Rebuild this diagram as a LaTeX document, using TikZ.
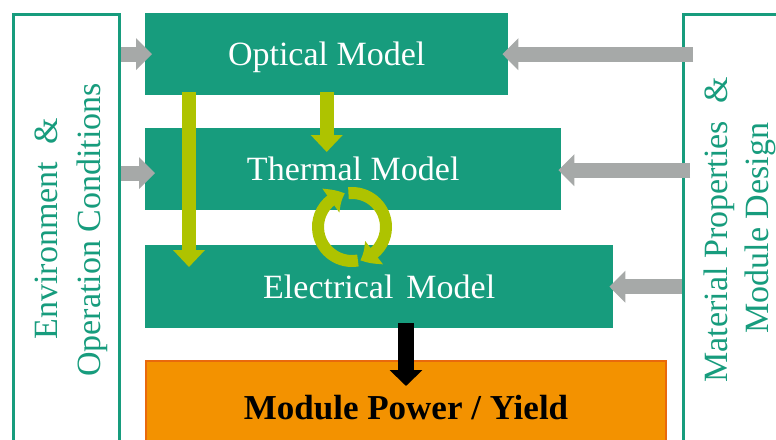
\documentclass[tikz,border=0pt]{standalone}
\usepackage{fontspec}
\setmainfont{Liberation Serif}
\usetikzlibrary{arrows.meta,bending,calc}
\definecolor{teal1}{HTML}{179C7D}
\definecolor{lime1}{HTML}{AEC300}
\definecolor{gray1}{HTML}{A6A9A8}
\definecolor{orange1}{HTML}{F39200}
\definecolor{orange2}{HTML}{E9690C}
\begin{document}
\begin{tikzpicture}[x=1pt,y=1pt,yscale=-1,
  model/.style={fill=teal1, text=white, font=\fontsize{34}{41}\selectfont,
    text height=23pt, text depth=0pt, inner sep=0pt, anchor=north west},
  side/.style={draw=teal1, line width=2.5pt, fill=white, anchor=north west, inner sep=0pt},
  sidetext/.style={text=teal1, font=\fontsize{34}{41}\selectfont, rotate=90,
    anchor=base, inner sep=0pt},
  grayarrow/.style={draw=gray1, line width=15pt, -{Triangle[width=31pt,length=16pt]}},
  limearrow/.style={draw=lime1, line width=14pt, -{Triangle[width=31pt,length=17pt]}},
  cyclearc/.style={draw=lime1, line width=12pt, -{Triangle[width=28pt,length=16pt,bend]}},
  blackarrow/.style={draw=black, line width=16pt, -{Triangle[width=32pt,length=16pt]}}]
\useasboundingbox (0,0) rectangle (776,439);
\clip (0,0) rectangle (776,439);

% side boxes
\node[side, minimum width=106pt, minimum height=460pt] (env) at (12,13) {};
\node[side, minimum width=130pt, minimum height=460pt] (mat) at (682,13) {};
\node[sidetext] (envA) at (57,229) {Environment\ \ \&};
\node[sidetext] (envB) at (100,230) {Operation Conditions};
\node[sidetext] (matA) at (727,230) {Material Properties\ \ \&};
\node[sidetext] (matB) at (768,228) {Module Design};

% model boxes
\node[model, minimum width=363pt, minimum height=82pt] (optical) at (145,13) {Optical Model};
\node[model, minimum width=416pt, minimum height=82pt] (thermal) at (145,128) {Thermal Model};
\node[model, minimum width=468pt, minimum height=83pt] (electrical) at (145,245) {Electrical\hspace{13pt}Model};
\node[draw=orange2, line width=2pt, fill=orange1, font=\bfseries\fontsize{35}{42}\selectfont,
  text height=23.5pt, text depth=0pt, minimum width=520pt, minimum height=94pt,
  anchor=north west, inner sep=0pt] (power) at (145,360) {Module Power / Yield};

% gray input arrows
\draw[grayarrow] (env.east |- optical.west) -- ($(optical.west)+(7,0)$);
\draw[grayarrow] ($(env.east |- thermal.west)+(0,4)$) -- ($(thermal.west)+(10,4)$);
\draw[grayarrow] ($(mat.west |- optical.east)+(11,0)$) -- ($(optical.east)+(-6,0)$);
\draw[grayarrow] ($(mat.west |- thermal.east)+(8,1)$) -- ($(thermal.east)+(-3,1)$);
\draw[grayarrow] (mat.west |- electrical.east) -- ($(electrical.east)+(-4,0)$);

% lime arrows
\draw[limearrow] ($(optical.south west)+(44,-3)$) -- ($(electrical.north west)+(44,22)$);
\draw[limearrow] ($(optical.south)+(0,-3)$) -- ($(optical.south |- thermal.north)+(0,24)$);

% cycle
\coordinate (cyc) at (352,227);
\draw[cyclearc] (cyc) ++(80:34) arc[start angle=80, end angle=258, radius=34];
\draw[cyclearc] (cyc) ++(264:34) arc[start angle=264, end angle=436, radius=34];

% output arrow
\draw[blackarrow] ($(electrical.south west)+(261,-5)$) -- ($(power.north west)+(261,26)$);
\end{tikzpicture}
\end{document}
